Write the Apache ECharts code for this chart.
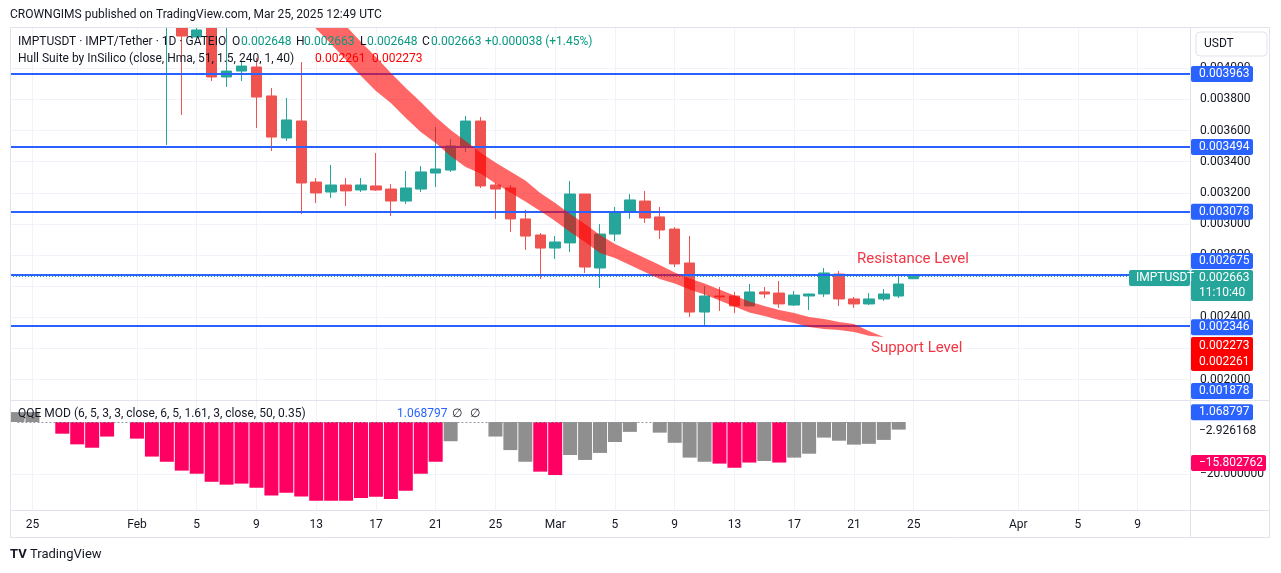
<!DOCTYPE html>
<html lang="en">
<head>
<meta charset="UTF-8">
<title>IMPTUSDT</title>
<script src="https://cdn.jsdelivr.net/npm/echarts@6/dist/echarts.min.js"></script>
<style>
    html, body { margin: 0; padding: 0; background: #fff; }
    #main { width: 1281px; height: 573px; }
</style>
</head>
<body>
<div id="main"></div>
<script type="text/javascript">

// daily categories shown on the time axis
const days = [
    '01-24','01-25','01-26','01-27','01-28','01-29','01-30','01-31',
    '02-01','02-02','02-03','02-04','02-05','02-06','02-07','02-08','02-09','02-10',
    '02-11','02-12','02-13','02-14','02-15','02-16','02-17','02-18','02-19','02-20',
    '02-21','02-22','02-23','02-24','02-25','02-26','02-27','02-28',
    '03-01','03-02','03-03','03-04','03-05','03-06','03-07','03-08','03-09','03-10',
    '03-11','03-12','03-13','03-14','03-15','03-16','03-17','03-18','03-19','03-20',
    '03-21','03-22','03-23','03-24','03-25','03-26','03-27','03-28','03-29','03-30','03-31',
    '04-01','04-02','04-03','04-04','04-05','04-06','04-07','04-08','04-09','04-10',
    '04-11','04-12'
];
const xTickLabels = {
    '01-25': '25', '02-01': 'Feb', '02-05': '5', '02-09': '9', '02-13': '13', '02-17': '17',
    '02-21': '21', '02-25': '25', '03-01': 'Mar', '03-05': '5', '03-09': '9', '03-13': '13',
    '03-17': '17', '03-21': '21', '03-25': '25', '04-01': 'Apr', '04-05': '5', '04-09': '9'
};

// [day, open, high, low, close]
const candles = [
    ['02-03', 0.004300, 0.004500, 0.003507, 0.004420],
    ['02-04', 0.004330, 0.004400, 0.003700, 0.004207],
    ['02-05', 0.004201, 0.004350, 0.004201, 0.004246],
    ['02-06', 0.004258, 0.004290, 0.003918, 0.003944],
    ['02-07', 0.003944, 0.004300, 0.003880, 0.003982],
    ['02-08', 0.003982, 0.004040, 0.003918, 0.004014],
    ['02-09', 0.004008, 0.004066, 0.003616, 0.003815],
    ['02-10', 0.003822, 0.003873, 0.003468, 0.003558],
    ['02-11', 0.003552, 0.003809, 0.003533, 0.003668],
    ['02-12', 0.003661, 0.004040, 0.003064, 0.003263],
    ['02-13', 0.003269, 0.003295, 0.003134, 0.003199],
    ['02-14', 0.003205, 0.003379, 0.003167, 0.003250],
    ['02-15', 0.003250, 0.003295, 0.003115, 0.003212],
    ['02-16', 0.003218, 0.003295, 0.003205, 0.003250],
    ['02-17', 0.003244, 0.003456, 0.003212, 0.003218],
    ['02-18', 0.003224, 0.003256, 0.003051, 0.003147],
    ['02-19', 0.003147, 0.003340, 0.003128, 0.003231],
    ['02-20', 0.003224, 0.003372, 0.003205, 0.003334],
    ['02-21', 0.003327, 0.003623, 0.003237, 0.003353],
    ['02-22', 0.003346, 0.003545, 0.003334, 0.003501],
    ['02-23', 0.003494, 0.003693, 0.003462, 0.003661],
    ['02-24', 0.003661, 0.003687, 0.003231, 0.003244],
    ['02-25', 0.003250, 0.003263, 0.003032, 0.003224],
    ['02-26', 0.003231, 0.003250, 0.002948, 0.003032],
    ['02-27', 0.003032, 0.003090, 0.002833, 0.002922],
    ['02-28', 0.002929, 0.002942, 0.002646, 0.002845],
    ['03-01', 0.002845, 0.002922, 0.002775, 0.002884],
    ['03-02', 0.002878, 0.003276, 0.002820, 0.003192],
    ['03-03', 0.003192, 0.003192, 0.002685, 0.002723],
    ['03-04', 0.002717, 0.002999, 0.002588, 0.002935],
    ['03-05', 0.002935, 0.003109, 0.002890, 0.003077],
    ['03-06', 0.003077, 0.003192, 0.003032, 0.003154],
    ['03-07', 0.003147, 0.003212, 0.003006, 0.003038],
    ['03-08', 0.003045, 0.003109, 0.002903, 0.002961],
    ['03-09', 0.002967, 0.002980, 0.002723, 0.002743],
    ['03-10', 0.002749, 0.002922, 0.002402, 0.002434],
    ['03-11', 0.002434, 0.002601, 0.002338, 0.002537],
    ['03-12', 0.002537, 0.002595, 0.002441, 0.002531],
    ['03-13', 0.002537, 0.002563, 0.002428, 0.002473],
    ['03-14', 0.002473, 0.002614, 0.002473, 0.002563],
    ['03-15', 0.002563, 0.002595, 0.002524, 0.002550],
    ['03-16', 0.002556, 0.002633, 0.002460, 0.002486],
    ['03-17', 0.002479, 0.002569, 0.002473, 0.002543],
    ['03-18', 0.002537, 0.002552, 0.002447, 0.002550],
    ['03-19', 0.002550, 0.002717, 0.002531, 0.002685],
    ['03-20', 0.002678, 0.002698, 0.002473, 0.002518],
    ['03-21', 0.002518, 0.002531, 0.002460, 0.002486],
    ['03-22', 0.002486, 0.002556, 0.002479, 0.002518],
    ['03-23', 0.002518, 0.002582, 0.002505, 0.002550],
    ['03-24', 0.002537, 0.002678, 0.002524, 0.002614],
    ['03-25', 0.002648, 0.002663, 0.002648, 0.002663]
];

// Hull Suite band: [day, upper line, lower line]
const hullBand = [
    ['02-10', 0.004766, 0.004547], ['02-11', 0.004670, 0.004451], ['02-12', 0.004573, 0.004355],
    ['02-13', 0.004470, 0.004252], ['02-14', 0.004374, 0.004156], ['02-15', 0.004271, 0.004053],
    ['02-16', 0.004169, 0.003950], ['02-17', 0.004072, 0.003854], ['02-18', 0.003969, 0.003777],
    ['02-19', 0.003873, 0.003680], ['02-20', 0.003783, 0.003590], ['02-21', 0.003687, 0.003520],
    ['02-22', 0.003603, 0.003436], ['02-23', 0.003533, 0.003366], ['02-24', 0.003459, 0.003324],
    ['02-25', 0.003395, 0.003260], ['02-26', 0.003337, 0.003202], ['02-27', 0.003279, 0.003144],
    ['02-28', 0.003199, 0.003083], ['03-01', 0.003134, 0.003019], ['03-02', 0.003064, 0.002948],
    ['03-03', 0.002999, 0.002884], ['03-04', 0.002929, 0.002813], ['03-05', 0.002871, 0.002781],
    ['03-06', 0.002826, 0.002736], ['03-07', 0.002781, 0.002691], ['03-08', 0.002736, 0.002646],
    ['03-09', 0.002688, 0.002617], ['03-10', 0.002649, 0.002579], ['03-11', 0.002617, 0.002547],
    ['03-12', 0.002579, 0.002508], ['03-13', 0.002540, 0.002470], ['03-14', 0.002502, 0.002431],
    ['03-15', 0.002473, 0.002409], ['03-16', 0.002447, 0.002383], ['03-17', 0.002428, 0.002364],
    ['03-18', 0.002402, 0.002338], ['03-19', 0.002389, 0.002325], ['03-20', 0.002370, 0.002319],
    ['03-21', 0.002357, 0.002306], ['03-22', 0.002312, 0.002282], ['03-23', 0.002273, 0.002261]
];

// horizontal levels drawn on the chart
const levels = [0.003963, 0.003494, 0.003078, 0.002675, 0.002346];
const extraLevel = 0.001878;
const lastPrice = 0.002663;
const priceTicks = [0.0020, 0.0022, 0.0024, 0.0026, 0.0028, 0.0030, 0.0032, 0.0034, 0.0036, 0.0038, 0.0040];

// QQE MOD histogram: [day, value, strong (1 = pink, 0 = grey)]
const qqe = [
    ['01-24', 3.8, 0], ['01-25', 3.8, 0], ['01-27', -4.5, 1], ['01-28', -8.6, 1],
    ['01-29', -9.9, 1], ['01-30', -5.6, 1], ['02-01', -6.4, 1], ['02-02', -13.3, 1],
    ['02-03', -15.3, 1], ['02-04', -18.7, 1], ['02-05', -19.9, 1], ['02-06', -23.0, 1],
    ['02-07', -24.1, 1], ['02-08', -23.7, 1], ['02-09', -25.3, 1], ['02-10', -28.3, 1],
    ['02-11', -27.2, 1], ['02-12', -28.7, 1], ['02-13', -30.3, 1], ['02-14', -30.3, 1],
    ['02-15', -30.3, 1], ['02-16', -29.2, 1], ['02-17', -28.8, 1], ['02-18', -29.6, 1],
    ['02-19', -26.4, 1], ['02-20', -19.9, 1], ['02-21', -15.3, 1], ['02-22', -7.4, 0],
    ['02-25', -5.6, 0], ['02-26', -10.8, 0], ['02-27', -15.3, 0], ['02-28', -19.1, 1],
    ['03-01', -20.4, 1], ['03-02', -12.7, 0], ['03-03', -14.6, 0], ['03-04', -11.9, 0],
    ['03-05', -7.7, 0], ['03-06', -3.8, 0], ['03-08', -4.1, 0], ['03-09', -8.0, 0],
    ['03-10', -13.7, 0], ['03-11', -15.3, 0], ['03-12', -16.0, 1], ['03-13', -17.6, 1],
    ['03-14', -15.6, 1], ['03-15', -15.0, 0], ['03-16', -15.6, 1], ['03-17', -13.7, 0],
    ['03-18', -12.2, 0], ['03-19', -6.0, 0], ['03-20', -7.2, 0], ['03-21', -8.7, 0],
    ['03-22', -8.4, 0], ['03-23', -6.9, 0], ['03-24', -2.93, 0]
];
const qqeTicks = [-20];
const qqeLastValue = -2.926168;
const qqeUpper = 1.068797;
const qqeSignal = -15.802762;

const FONT = 'Roboto, "Noto Sans", sans-serif';
const TXT = '#131722';
const GRID = '#f0f3fa';

let chart = echarts.init(document.getElementById('main'));

// align the rows with the category axis
const pos = {};
days.forEach((d, i) => { pos[d] = i; });

const candleData = days.map(() => '-');
candles.forEach(r => { candleData[pos[r[0]]] = [r[1], r[4], r[3], r[2]]; });

const hullLow = days.map(() => '-');
const hullGap = days.map(() => '-');
hullBand.forEach(r => {
    hullLow[pos[r[0]]] = r[2];
    hullGap[pos[r[0]]] = +(r[1] - r[2]).toFixed(7);
});

const qqeData = days.map(() => '-');
qqe.forEach(r => {
    qqeData[pos[r[0]]] = { value: r[1], itemStyle: { color: r[2] ? '#ff0062' : '#8f8f8f' } };
});

const showTick = (i, v) => xTickLabels[v] !== undefined;
const firstDay = days[0];

// level lines: from the left edge to the right edge of the price pane
const levelLines = levels.map(v => [
    { x: 10, yAxis: v, lineStyle: { color: '#2962ff', width: 2, type: 'solid' } },
    { x: 1190, yAxis: v }
]).concat([[
    { x: 10, yAxis: lastPrice, lineStyle: { color: '#26a69a', width: 1, type: [1, 2] } },
    { x: 1190, yAxis: lastPrice }
]]);

let option = {
    animation: false,
    backgroundColor: '#ffffff',
    textStyle: { fontFamily: FONT },
    grid: [
        { left: 10, right: 91, top: 27, height: 373 },
        { left: 10, right: 91, top: 400, height: 110 }
    ],
    xAxis: [
        {
            type: 'category', gridIndex: 0, data: days, boundaryGap: true,
            axisLine: { show: false }, axisTick: { show: false }, axisLabel: { show: false },
            splitLine: { show: true, interval: showTick, alignWithLabel: true, lineStyle: { color: GRID } }
        },
        {
            type: 'category', gridIndex: 1, data: days, boundaryGap: true,
            axisLine: { show: false }, axisTick: { show: false },
            axisLabel: {
                interval: showTick, formatter: v => xTickLabels[v] || '',
                color: TXT, fontSize: 12, margin: 9, fontFamily: FONT
            },
            splitLine: { show: true, interval: showTick, alignWithLabel: true, lineStyle: { color: GRID } }
        }
    ],
    yAxis: [
        {
            type: 'value', gridIndex: 0, position: 'right', min: 0.001869, max: 0.004265,
            axisLine: { show: false },
            axisTick: { show: false, customValues: priceTicks },
            axisLabel: {
                customValues: priceTicks, formatter: v => v.toFixed(6),
                color: TXT, fontSize: 12, margin: 10, fontFamily: FONT
            },
            splitLine: { lineStyle: { color: GRID } }
        },
        {
            type: 'value', gridIndex: 1, position: 'right', min: -33.85, max: 8.46,
            axisLine: { show: false },
            axisTick: { show: false, customValues: qqeTicks },
            axisLabel: {
                customValues: qqeTicks, formatter: v => (v < 0 ? '\u2212' : '') + Math.abs(v).toFixed(6),
                color: TXT, fontSize: 12, margin: 10, fontFamily: FONT
            },
            splitLine: { lineStyle: { color: GRID } }
        }
    ],
    series: [
        {
            name: 'IMPTUSDT', type: 'candlestick', xAxisIndex: 0, yAxisIndex: 0,
            data: candleData, barWidth: 11, z: 2, clip: true,
            itemStyle: { color: '#26a69a', color0: '#ef5350', borderColor: '#26a69a', borderColor0: '#ef5350', borderWidth: 1 }
        },
        {
            name: 'hullLow', type: 'line', xAxisIndex: 0, yAxisIndex: 0, stack: 'hull',
            data: hullLow, symbol: 'none', z: 3, lineStyle: { width: 0 }, silent: true,
            markLine: {
                symbol: 'none', silent: true, animation: false, label: { show: false }, z: 3,
                data: levelLines
            }
        },
        {
            name: 'hullGap', type: 'line', xAxisIndex: 0, yAxisIndex: 0, stack: 'hull',
            data: hullGap, symbol: 'none', z: 20, lineStyle: { width: 0 }, silent: true,
            areaStyle: { color: 'rgba(255, 0, 0, 0.6)', opacity: 1 }
        },
        {
            name: 'QQE', type: 'bar', xAxisIndex: 1, yAxisIndex: 1,
            data: qqeData, barWidth: 14,
            markLine: {
                symbol: 'none', silent: true, animation: false, label: { show: false },
                lineStyle: { color: '#9598a1', type: [2, 2], width: 1 },
                data: [[{ coord: [firstDay, 0] }, { coord: ['03-24', 0] }]]
            }
        }
    ]
};
chart.setOption(option);

// ---- overlays: axis tags, legends, annotations ----
const py = v => chart.convertToPixel({ yAxisIndex: 0 }, v);
const qy = v => chart.convertToPixel({ yAxisIndex: 1 }, v);

function txt(x, y, text, color, size, extra) {
    return {
        type: 'text', x: x, y: y, z: 100,
        style: Object.assign({ text: text, fill: color, fontSize: size || 12, fontFamily: FONT, verticalAlign: 'middle', align: 'left' }, extra || {})
    };
}
function box(x, y, w, h, fill, extra) {
    return { type: 'rect', z: 99, shape: { x: x, y: y, width: w, height: h, r: 2 }, style: Object.assign({ fill: fill }, extra || {}) };
}
function tag(y, text, bg, w) {
    return [box(1191, y - 8, w || 62, 16, bg), txt(1199, y, text, '#ffffff')];
}
function line(x1, y1, x2, y2, color) {
    return { type: 'line', z: 98, shape: { x1: x1, y1: y1, x2: x2, y2: y2 }, style: { stroke: color || '#e0e3eb', lineWidth: 1 } };
}

const yLast = py(lastPrice);
const yHullTop = py(hullBand[hullBand.length - 1][1]);
let g = [];

// white strip above the price pane hides candle parts that run past the top
g.push({ type: 'rect', z: 97, shape: { x: 0, y: 0, width: 1281, height: 27 }, style: { fill: '#ffffff' } });

// frame and separators
g.push({ type: 'rect', z: 98, shape: { x: 10.5, y: 27.5, width: 1259, height: 510 }, style: { fill: 'none', stroke: '#e0e3eb', lineWidth: 1 } });
g.push(line(10, 400.5, 1270, 400.5));
g.push(line(1190.5, 27, 1190.5, 538));
g.push(line(10, 510.5, 1270, 510.5));

// price axis tags
g = g.concat(tag(py(levels[0]), levels[0].toFixed(6), '#2962ff'));
g = g.concat(tag(py(levels[1]), levels[1].toFixed(6), '#2962ff'));
g = g.concat(tag(py(levels[2]), levels[2].toFixed(6), '#2962ff'));
g = g.concat(tag(py(levels[3]) - 13.5, levels[3].toFixed(6), '#2962ff'));
g.push(box(1191, yLast - 6.5, 62, 31, '#26a69a'));
g.push(txt(1199, yLast + 1.5, lastPrice.toFixed(6), '#ffffff'));
g.push(txt(1199, yLast + 16.5, '11:10:40', '#ffffff'));
g.push(box(1129, yLast - 6.5, 61, 16, '#26a69a'));
g.push(txt(1136, yLast + 1.5, 'IMPTUSDT', '#ffffff'));
g = g.concat(tag(py(levels[4]) + 1.5, levels[4].toFixed(6), '#2962ff'));
g.push(box(1191, yHullTop, 62, 34, '#ff0000'));
g.push(txt(1199, yHullTop + 8.5, hullBand[hullBand.length - 1][1].toFixed(6), '#ffffff'));
g.push(txt(1199, yHullTop + 25, hullBand[hullBand.length - 1][2].toFixed(6), '#ffffff'));
g = g.concat(tag(Math.min(py(extraLevel), 391), extraLevel.toFixed(6), '#2962ff'));

// QQE axis tags
g = g.concat(tag(qy(qqeUpper) - 7, qqeUpper.toFixed(6), '#2962ff'));
g.push(txt(1199, qy(qqeLastValue) + 1, '\u2212' + Math.abs(qqeLastValue).toFixed(6), TXT));
g = g.concat(tag(qy(qqeSignal), '\u2212' + Math.abs(qqeSignal).toFixed(6), '#ff0062', 75));

// USDT unit box
g.push({ type: 'rect', z: 99, shape: { x: 1196, y: 32, width: 71, height: 24, r: 4 }, style: { fill: '#ffffff', stroke: '#e0e3eb' } });
g.push(txt(1204, 44, 'USDT', TXT));

// header and legends
g.push(txt(10, 15, 'CROWNGIMS published on TradingView.com, Mar 25, 2025 12:49 UTC', TXT, 12));
g.push(txt(18, 42, 'IMPTUSDT \u00b7 IMPT/Tether \u00b7 1D \u00b7 GATEIO', TXT, 12));
g.push(txt(232, 42, 'O', TXT, 12));
g.push(txt(241, 42, '0.002648', '#089981', 12));
g.push(txt(296, 42, 'H', TXT, 12));
g.push(txt(304, 42, '0.002663', '#089981', 12));
g.push(txt(360, 42, 'L', TXT, 12));
g.push(txt(367, 42, '0.002648', '#089981', 12));
g.push(txt(422, 42, 'C', TXT, 12));
g.push(txt(431, 42, '0.002663', '#089981', 12));
g.push(txt(485, 42, '+0.000038 (+1.45%)', '#089981', 12));
g.push(txt(18, 59, 'Hull Suite by InSilico (close, Hma, 51, 1.5, 240, 1, 40)', TXT, 12));
g.push(txt(315, 59, '0.002261', '#ff0000', 12));
g.push(txt(372, 59, '0.002273', '#ff0000', 12));
g.push(txt(18, 414, 'QQE MOD (6, 5, 3, 3, close, 6, 5, 1.61, 3, close, 50, 0.35)', TXT, 12));
g.push(txt(397, 414, qqeUpper.toFixed(6), '#2962ff', 12));
g.push(txt(452, 414, '\u2205', TXT, 12));
g.push(txt(470, 414, '\u2205', TXT, 12));

// annotations
g.push(txt(857, 259, 'Resistance Level', '#f23645', 15));
g.push(txt(871, 348, 'Support Level', '#f23645', 15));

// footer
g.push(txt(10, 555, 'TV', TXT, 13, { fontWeight: 'bold' }));
g.push(txt(30, 555, 'TradingView', TXT, 13));

chart.setOption({ graphic: g });
</script>
</body>
</html>
